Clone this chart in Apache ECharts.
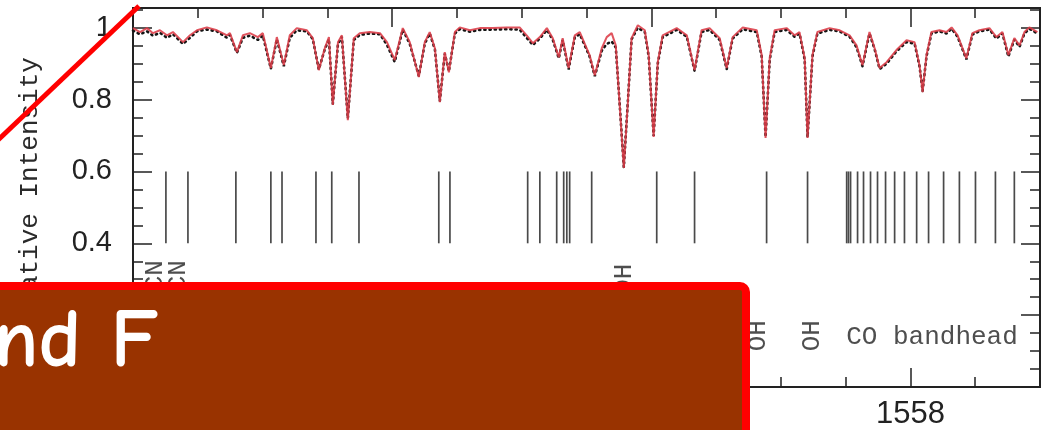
<!DOCTYPE html>
<html>
<head>
<meta charset="utf-8">
<script src="https://cdn.jsdelivr.net/npm/echarts@6/dist/echarts.min.js"></script>
<style>
  html, body { margin: 0; padding: 0; background: #fff; }
  #chart { width: 1051px; height: 430px; }
</style>
</head>
<body>
<div id="chart"></div>
<script>
// Wavelength grid of the spectrum (nm)
const wavelength = [
  1555.000, 1555.027, 1555.054, 1555.077, 1555.104, 1555.131, 1555.154, 1555.193, 1555.220, 1555.247,
  1555.285, 1555.324, 1555.363, 1555.374, 1555.401, 1555.424, 1555.451, 1555.482, 1555.501, 1555.532,
  1555.555, 1555.582, 1555.605, 1555.632, 1555.671, 1555.694, 1555.717, 1555.740, 1555.756, 1555.771,
  1555.791, 1555.806, 1555.829, 1555.852, 1555.875, 1555.914, 1555.953, 1555.980, 1556.010, 1556.041,
  1556.068, 1556.103, 1556.126, 1556.145, 1556.165, 1556.184, 1556.203, 1556.219, 1556.242, 1556.261,
  1556.300, 1556.338, 1556.388, 1556.442, 1556.492, 1556.519, 1556.543, 1556.570, 1556.597, 1556.620,
  1556.643, 1556.658, 1556.681, 1556.705, 1556.724, 1556.762, 1556.782, 1556.809, 1556.828, 1556.847,
  1556.863, 1556.878, 1556.894, 1556.909, 1556.924, 1556.948, 1556.975, 1556.990, 1557.009, 1557.025,
  1557.044, 1557.098, 1557.137, 1557.167, 1557.194, 1557.225, 1557.264, 1557.291, 1557.314, 1557.353,
  1557.407, 1557.426, 1557.441, 1557.457, 1557.476, 1557.522, 1557.553, 1557.572, 1557.592, 1557.603,
  1557.622, 1557.641, 1557.688, 1557.727, 1557.765, 1557.792, 1557.815, 1557.842, 1557.862, 1557.881,
  1557.908, 1557.946, 1557.985, 1558.016, 1558.035, 1558.047, 1558.062, 1558.081, 1558.112, 1558.139,
  1558.159, 1558.182, 1558.216, 1558.239, 1558.266, 1558.305, 1558.332, 1558.355, 1558.378, 1558.401,
  1558.421, 1558.440, 1558.459, 1558.490
];

// Synthetic (model) spectrum, relative intensity
const modelFlux = [
  0.999, 0.988, 0.999, 0.985, 0.993, 0.979, 0.988, 0.960, 0.979, 0.993,
  1.001, 0.993, 0.979, 0.985, 0.932, 0.979, 0.985, 0.974, 0.985, 0.888,
  0.974, 0.896, 0.979, 0.999, 0.993, 0.971, 0.882, 0.943, 0.974, 0.785,
  0.960, 0.979, 0.743, 0.971, 0.985, 0.988, 0.985, 0.960, 0.910, 0.999,
  0.960, 0.863, 0.960, 0.988, 0.943, 0.793, 0.932, 0.876, 0.988, 1.001,
  0.993, 0.999, 0.999, 1.001, 1.001, 0.979, 0.957, 0.974, 0.999, 0.971,
  0.918, 0.971, 0.888, 0.979, 0.988, 0.924, 0.868, 0.943, 0.974, 0.985,
  0.951, 0.785, 0.610, 0.785, 0.971, 1.007, 0.993, 0.924, 0.696, 0.904,
  0.979, 0.999, 0.979, 0.882, 0.993, 0.999, 0.971, 0.888, 0.974, 1.001,
  0.993, 0.924, 0.693, 0.915, 0.993, 0.999, 0.979, 0.988, 0.915, 0.693,
  0.924, 0.988, 0.999, 0.993, 0.979, 0.951, 0.896, 0.988, 0.943, 0.888,
  0.904, 0.938, 0.965, 0.960, 0.896, 0.821, 0.924, 0.988, 0.993, 0.988,
  1.001, 0.979, 0.915, 0.985, 0.993, 0.999, 0.974, 0.988, 0.924, 0.971,
  0.951, 0.988, 1.001, 0.988
];

// Observed spectrum, relative intensity
const observedFlux = [
  0.992, 0.982, 0.990, 0.978, 0.986, 0.972, 0.982, 0.955, 0.972, 0.990,
  0.995, 0.990, 0.972, 0.980, 0.930, 0.972, 0.978, 0.966, 0.978, 0.886,
  0.968, 0.893, 0.972, 0.993, 0.990, 0.968, 0.884, 0.940, 0.968, 0.788,
  0.955, 0.975, 0.748, 0.966, 0.980, 0.984, 0.982, 0.952, 0.905, 0.995,
  0.955, 0.866, 0.956, 0.984, 0.940, 0.796, 0.928, 0.879, 0.984, 0.996,
  0.989, 0.994, 0.995, 0.996, 0.995, 0.972, 0.952, 0.970, 0.994, 0.966,
  0.915, 0.966, 0.884, 0.974, 0.982, 0.920, 0.865, 0.936, 0.955, 0.962,
  0.945, 0.788, 0.612, 0.788, 0.968, 1.000, 0.988, 0.920, 0.699, 0.900,
  0.974, 0.994, 0.975, 0.880, 0.988, 0.994, 0.966, 0.885, 0.970, 0.996,
  0.988, 0.920, 0.696, 0.911, 0.988, 0.994, 0.975, 0.984, 0.911, 0.696,
  0.920, 0.984, 0.994, 0.990, 0.975, 0.946, 0.893, 0.984, 0.940, 0.885,
  0.900, 0.934, 0.960, 0.956, 0.893, 0.824, 0.920, 0.984, 0.990, 0.984,
  0.997, 0.975, 0.912, 0.981, 0.990, 0.995, 0.970, 0.984, 0.920, 0.967,
  0.947, 0.984, 0.997, 0.984
];

// Line list positions (nm), drawn as vertical markers
const lineListWl = [
  1555.127, 1555.212, 1555.397, 1555.532, 1555.575, 1555.706, 1555.767, 1555.872,
  1556.180, 1556.223, 1556.523, 1556.570, 1556.635, 1556.662, 1556.674, 1556.685,
  1556.770, 1557.021, 1557.167, 1557.445, 1557.603,
  1557.754, 1557.761, 1557.769, 1557.796, 1557.819, 1557.846, 1557.873, 1557.904,
  1557.939, 1557.977, 1558.024, 1558.070, 1558.128, 1558.189, 1558.251, 1558.328, 1558.401
];
const markerTop = 0.6;
const markerBottom = 0.4;

// Species identifications
const featureWl = [1555.085, 1555.174, 1556.894, 1557.414, 1557.619];
const featureFlux = [0.31, 0.31, 0.30, 0.143, 0.143];
const featureText = ['CN', 'CN', 'OH', 'OH', 'OH'];
const bandheadWl = 1557.752;
const bandheadFlux = 0.14;
const bandheadText = 'CO bandhead';

// Axis ranges and tick steps
const xMin = 1555, xMax = 1558.5, xMajor = 1, xMinor = 0.25;
const yMin = 0, yMax = 1.055, yMajor = 0.2, yMinor = 0.05;
const yTitle = 'Relative Intensity';
const bannerText = 'nd F';

const ink = '#222';
const monoFont = '"Liberation Mono", "DejaVu Sans Mono", monospace';
const sansFont = '"Liberation Sans", Arial, sans-serif';

function xAxisDef(position, major) {
  return {
    type: 'value', position: position, min: xMin, max: xMax,
    interval: major ? xMajor : xMinor,
    axisLine: { show: false, onZero: false },
    splitLine: { show: false },
    axisTick: { show: true, inside: true, length: major ? 19 : 10,
                lineStyle: { color: ink, width: 1.5 } },
    axisLabel: (major && position === 'bottom')
      ? { show: true, margin: 12, fontSize: 31, color: ink, fontFamily: sansFont,
          showMaxLabel: false, formatter: v => String(v) }
      : { show: false }
  };
}

function yAxisDef(position, major, withName) {
  const def = {
    type: 'value', position: position, min: yMin, max: yMax,
    interval: major ? yMajor : yMinor,
    axisLine: { show: false, onZero: false },
    splitLine: { show: false },
    axisTick: { show: true, inside: true, length: major ? 19 : 10,
                lineStyle: { color: ink, width: 1.5 } },
    axisLabel: (major && position === 'left')
      ? { show: true, margin: 21, fontSize: 29, color: ink, fontFamily: sansFont,
          showMaxLabel: false }
      : { show: false }
  };
  if (withName) {
    def.name = yTitle;
    def.nameLocation = 'middle';
    def.nameGap = 90;
    def.nameTextStyle = { fontFamily: monoFont, fontSize: 26, color: '#2a2a2a' };
  }
  return def;
}

const chart = echarts.init(document.getElementById('chart'), null, { renderer: 'canvas' });

const featureData = featureWl.map((w, i) => ({ value: [w, featureFlux[i]], name: featureText[i] }));
featureData.push({
  value: [bandheadWl, bandheadFlux], name: bandheadText,
  label: { rotate: 0, position: 'right', distance: 0 }
});

chart.setOption({
  animation: false,
  backgroundColor: '#fff',
  grid: {
    left: 133, right: 11, top: 8, bottom: 43,
    show: true, borderColor: ink, borderWidth: 2, backgroundColor: 'transparent'
  },
  xAxis: [
    xAxisDef('bottom', true), xAxisDef('bottom', false),
    xAxisDef('top', true), xAxisDef('top', false)
  ],
  yAxis: [
    yAxisDef('left', true, true), yAxisDef('left', false, false),
    yAxisDef('right', true, false), yAxisDef('right', false, false)
  ],
  series: [
    {
      name: 'Observed', type: 'line', xAxisIndex: 0, yAxisIndex: 0,
      data: wavelength.map((w, i) => [w, observedFlux[i]]),
      showSymbol: false, symbol: 'none',
      lineStyle: { color: '#151515', width: 2.6, type: [1.2, 4], cap: 'round' },
      z: 2
    },
    {
      name: 'Model', type: 'line', xAxisIndex: 0, yAxisIndex: 0,
      data: wavelength.map((w, i) => [w, modelFlux[i]]),
      showSymbol: false, symbol: 'none',
      lineStyle: { color: '#dc3c48', width: 2, opacity: 0.88 },
      z: 3
    },
    {
      name: 'Line list', type: 'custom', xAxisIndex: 0, yAxisIndex: 0,
      data: lineListWl.map(w => [w, markerTop, markerBottom]),
      encode: { x: 0, y: [1, 2] },
      silent: true,
      renderItem: function (params, api) {
        const p1 = api.coord([api.value(0), api.value(1)]);
        const p2 = api.coord([api.value(0), api.value(2)]);
        return {
          type: 'line',
          shape: { x1: p1[0], y1: p1[1], x2: p2[0], y2: p2[1] },
          style: { stroke: '#4a4a4a', lineWidth: 1.7 }
        };
      },
      z: 2
    },
    {
      name: 'Species', type: 'scatter', xAxisIndex: 0, yAxisIndex: 0,
      data: featureData,
      symbolSize: 0, silent: true,
      label: {
        show: true, formatter: '{b}', rotate: 90, position: 'inside',
        fontFamily: monoFont, fontSize: 26, color: '#222'
      },
      z: 4
    }
  ],
  graphic: [
    {
      type: 'rect', z: 100,
      shape: { x: -10, y: 286, width: 756, height: 170, r: 6 },
      style: { fill: '#993300', stroke: '#ff0000', lineWidth: 8 }
    },
    {
      type: 'text', z: 101, x: -6, y: 302,
      style: {
        text: bannerText, fill: '#ffffff',
        fontSize: 82, fontWeight: 'bold',
        fontFamily: '"Comic Sans MS", "Comic Neue", "DejaVu Sans", sans-serif',
        verticalAlign: 'top'
      }
    },
    {
      type: 'line', z: 102,
      shape: { x1: -3, y1: 141, x2: 139, y2: 6 },
      style: { stroke: '#ff0000', lineWidth: 5 }
    }
  ]
});
</script>
</body>
</html>
